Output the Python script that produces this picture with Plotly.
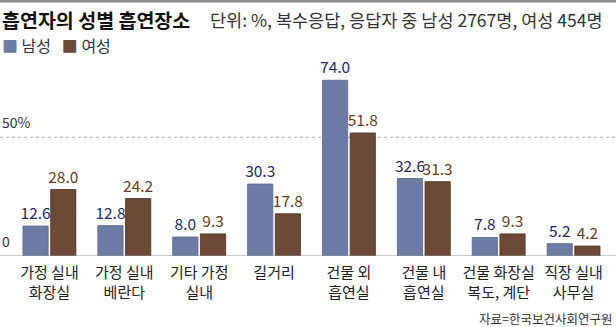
import plotly.graph_objects as go

categories = ["가정 실내<br>화장실", "가정 실내<br>베란다", "기타 가정<br>실내", "길거리",
              "건물 외<br>흡연실", "건물 내<br>흡연실", "건물 화장실<br>복도, 계단", "직장 실내<br>사무실"]
male = [12.6, 12.8, 8.0, 30.3, 74.0, 32.6, 7.8, 5.2]
female = [28.0, 24.2, 9.3, 17.8, 51.8, 31.3, 9.3, 4.2]

W, H = 616, 327
L, R, T, B = 12, 5, 66, 71
PH = H - T - B
PW = W - L - R

def py(p):
    return (H - B - p) / PH

def px(p):
    return (p - L) / PW

FONT = "Noto Sans CJK KR"
MALE_C = "#6c7ca5"
FEMALE_C = "#6d4a37"

fig = go.Figure()
fig.add_trace(go.Bar(
    name="남성", x=categories, y=male,
    marker=dict(color=MALE_C, line=dict(color="#56658c", width=0.8)),
    text=[f"{v:.1f}" for v in male], textposition="outside", constraintext="none",
    textfont=dict(color="#1f2a63", size=15.5, family=FONT),
    cliponaxis=False, showlegend=False,
))
fig.add_trace(go.Bar(
    name="여성", x=categories, y=female,
    marker=dict(color=FEMALE_C, line=dict(color="#4e3021", width=0.8)),
    text=[f"{v:.1f}" for v in female], textposition="outside", constraintext="none",
    textfont=dict(color="#6b3b22", size=15.5, family=FONT),
    cliponaxis=False, showlegend=False,
))

fig.update_layout(
    width=W, height=H,
    margin=dict(l=L, r=R, t=T, b=B),
    paper_bgcolor="white", plot_bgcolor="white",
    barmode="group", bargap=0.26, bargroupgap=0.09,
    font=dict(family=FONT, color="#222"),
    showlegend=False,
    xaxis=dict(showgrid=False, showline=False, ticks="", tickfont=dict(size=15, color="#222", family=FONT),
               ticklabelstandoff=6, fixedrange=True),
    yaxis=dict(range=[0, 80], showgrid=False, showticklabels=False, zeroline=False, showline=False,
               fixedrange=True),
)

# top border
fig.add_shape(type="line", xref="paper", yref="paper", x0=px(0), x1=px(W), y0=py(1), y1=py(1),
              line=dict(color="#888", width=3))
# baseline
fig.add_shape(type="line", xref="paper", yref="y", x0=px(0), x1=px(W), y0=0, y1=0,
              line=dict(color="#999", width=1.2), layer="above")
# 50% gridline
fig.add_shape(type="line", xref="paper", yref="y", x0=px(0), x1=px(W), y0=50, y1=50,
              line=dict(color="#aaa", width=1, dash="dot"), layer="below")

legend_html = (f"<span style='color:{MALE_C}'>■</span> 남성   "
               f"<span style='color:{FEMALE_C}'>■</span> 여성")

ann = [
    dict(text="<b>흡연자의 성별 흡연장소</b>", x=px(0), y=py(20), size=19.5, color="#111", xa="left"),
    dict(text="단위: %, 복수응답, 응답자 중 남성 2767명, 여성 454명", x=px(208), y=py(20), size=17.5, color="#333", xa="left"),
    dict(text=legend_html, x=px(0), y=py(45), size=16, color="#333", xa="left"),
    dict(text="자료=한국보건사회연구원", x=px(614), y=py(318), size=12.5, color="#333", xa="right"),
]
for a in ann:
    fig.add_annotation(text=a["text"], x=a["x"], y=a["y"], xref="paper", yref="paper",
                       xanchor=a["xa"], yanchor="middle", showarrow=False,
                       font=dict(size=a["size"], color=a["color"], family=FONT))

fig.add_annotation(text="50%", x=px(0), y=50, xref="paper", yref="y", xanchor="left", yanchor="bottom",
                   yshift=3, showarrow=False, font=dict(size=14, color="#333", family=FONT))
fig.add_annotation(text="0", x=px(0), y=0, xref="paper", yref="y", xanchor="left", yanchor="bottom",
                   yshift=3, showarrow=False, font=dict(size=14, color="#333", family=FONT))

fig.write_html("out.html")
